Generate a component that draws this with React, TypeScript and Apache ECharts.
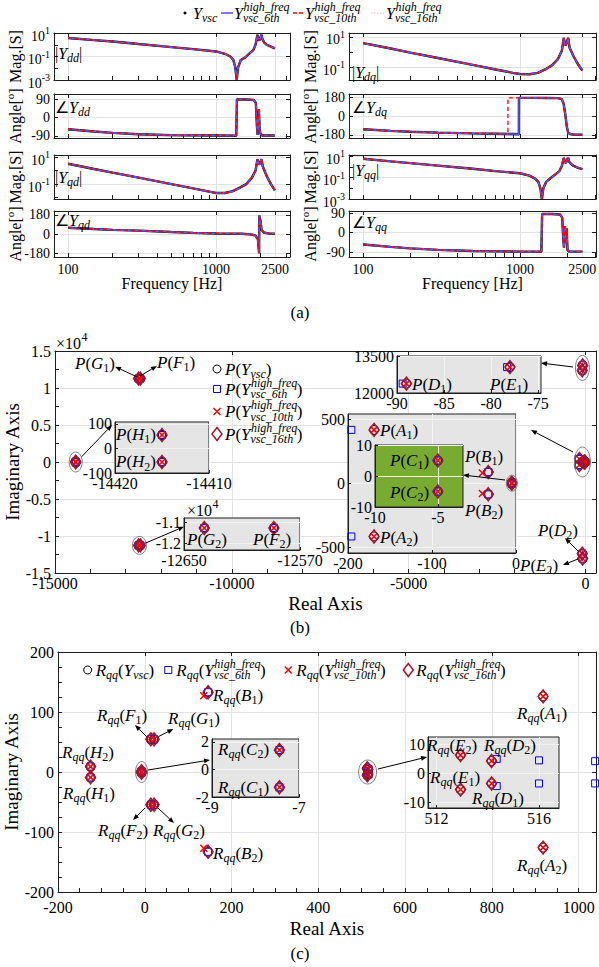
import React, { useEffect, useRef } from "react";
import * as echarts from "echarts";

const SERIF = "Liberation Serif, Times New Roman, serif";
const INK = "#1e1e1e";
const GRIDC = "#e3e3e3";

type Pt = [number, number];

// ---------------- (a) frequency responses ----------------
const freqLabels = [100, 1000, 2500];
const freqTicks = [100, 200, 300, 400, 500, 600, 700, 800, 900, 1000, 2000, 3000];

const fDdMag = [100, 150, 200, 300, 500, 700, 1000, 1150, 1250, 1310, 1350, 1380, 1410, 1470, 1570, 1700, 1785, 1850, 1905, 1935, 1970, 2000, 2030, 2060, 2120, 2200, 2350, 2500];
const ddMag = [3.8, 2.5, 1.9, 1.15, 0.63, 0.42, 0.27, 0.17, 0.1, 0.05, 0.012, 0.001, 0.012, 0.05, 0.08, 0.2, 0.35, 1.0, 7.0, 2.5, 2.5, 4.5, 7.0, 3.0, 1.5, 1.0, 0.7, 0.5];
const fDdAng = [100, 150, 200, 300, 500, 700, 1000, 1370, 1385, 1600, 1800, 1860, 1890, 1910, 1930, 1950, 1970, 2000, 2060, 2500];
const ddAng = [-57, -68, -75, -82, -86, -87, -88, -89, 88, 88, 86, 70, -40, -85, -20, 40, -60, -80, -88, -88];

const fDqMag = [100, 150, 200, 300, 500, 700, 900, 1000, 1150, 1300, 1450, 1600, 1750, 1850, 1905, 1940, 1970, 2030, 2070, 2200, 2350, 2500];
const dqMag = [3.8, 1.7, 0.9, 0.4, 0.14, 0.07, 0.042, 0.035, 0.034, 0.042, 0.07, 0.13, 0.35, 1.2, 8.5, 3.0, 3.0, 8.5, 2.0, 0.5, 0.15, 0.06];
const fDqAngA = [100, 150, 200, 300, 500, 700, 900, 985, 986, 1200, 1500, 1750, 1850, 1900, 1950, 1990, 2030, 2100, 2200, 2500];
const dqAngA = [-126, -141, -150, -158, -165, -169, -172, -174, 178, 178, 177, 175, 165, 120, 10, -100, -160, -172, -177, -178];
const fDqAngB = [100, 150, 200, 300, 500, 700, 838, 839, 1200, 1500, 1750, 1850, 1900, 1950, 1990, 2030, 2100, 2200, 2500];
const dqAngB = [-126, -141, -150, -158, -165, -169, -172, 178, 178, 177, 175, 165, 120, 10, -100, -160, -172, -177, -178];

const fQdMag = [100, 150, 200, 300, 500, 700, 900, 1000, 1150, 1300, 1450, 1600, 1750, 1850, 1905, 1940, 1970, 2030, 2070, 2200, 2350, 2500];
const qdMag = [3.2, 1.3, 0.7, 0.3, 0.1, 0.048, 0.028, 0.022, 0.022, 0.03, 0.055, 0.1, 0.3, 1.0, 7.0, 3.0, 3.0, 7.0, 2.0, 0.4, 0.1, 0.035];
const fQdAng = [100, 150, 200, 300, 500, 700, 1000, 1500, 1750, 1850, 1920, 1955, 1960, 2000, 2030, 2100, 2300, 2500];
const qdAng = [60, 48, 40, 33, 20, 12, 6, 3, -5, -15, -50, -180, 175, 120, 40, 15, 5, 3];

const fQqMag = [100, 150, 200, 300, 500, 700, 1000, 1150, 1250, 1310, 1350, 1380, 1410, 1470, 1570, 1700, 1785, 1850, 1905, 1935, 1970, 2000, 2030, 2060, 2120, 2200, 2350, 2500];
const qqMag = [5.6, 3.2, 2.2, 1.3, 0.65, 0.4, 0.25, 0.15, 0.08, 0.04, 0.01, 0.001, 0.01, 0.04, 0.09, 0.22, 0.4, 1.2, 7.0, 2.5, 2.5, 4.5, 7.5, 3.0, 1.8, 1.2, 0.8, 0.6];
const fQqAng = [100, 150, 200, 300, 500, 700, 1000, 1370, 1385, 1600, 1800, 1860, 1890, 1910, 1935, 1960, 1985, 2010, 2060, 2500];
const qqAng = [-55, -66, -73, -80, -85, -87, -88, -89, 86, 86, 84, 70, -30, -70, 30, -50, 20, -80, -88, -88];

const bodeNames = ["Y_vsc", "Y_vsc_6th", "Y_vsc_10th", "Y_vsc_16th"];

// ---------------- (b) poles of the admittance ----------------
const poleVsc: Pt[] = [[-169, 416], [-169, -416], [-33, 87], [-33, -87], [-5, 5], [-5, -5], [-89, 12381], [-89, -12381], [-78, 13049], [-78, -13049], [-12588, 11270], [-12588, -11270], [-12636, 11270], [-12636, -11270], [-14415, 55], [-14415, -55]];
const pole6th: Pt[] = [[-196, 416], [-196, -416], [-33, 87], [-33, -87], [-5, 5], [-5, -5], [-89.4, 12381], [-89.4, -12381], [-78.3, 13049], [-78.3, -13049], [-12588, 11270], [-12588, -11270], [-12636, 11270], [-12636, -11270], [-14415, 55], [-14415, -55]];
const pole10th: Pt[] = [[-169, 416], [-169, -416], [-40, 80], [-40, -80], [-5, 5], [-5, -5], [-89, 12381], [-89, -12381], [-78, 13049], [-78, -13049], [-12588, 11270], [-12588, -11270], [-12636, 11270], [-12636, -11270], [-14415, 55], [-14415, -55]];
const pole16th: Pt[] = [[-169, 416], [-169, -416], [-33, 87], [-33, -87], [-5, 5], [-5, -5], [-89, 12381], [-89, -12381], [-78, 13049], [-78, -13049], [-12588, 11270], [-12588, -11270], [-12636, 11270], [-12636, -11270], [-14415, 55], [-14415, -55]];
const poleXLabels = [-15000, -10000, -5000, 0];
const poleYLabels = [-15000, -10000, -5000, 0, 5000, 10000, 15000];

// ---------------- (c) R_qq ----------------
const rqqVsc: Pt[] = [[918, 126], [918, -126], [146, 133], [146, -133], [-7.45, 1.4], [-7.45, -1.3], [514.15, 4.2], [514.15, -3.5], [512.94, 6.2], [512.94, -5.6], [14, 54.5], [14, -54.5], [21.5, 54.5], [21.5, -54.5], [-125, 9], [-125, -9]];
const rqq6th: Pt[] = [[1038, 18], [1038, -19], [146, 133], [146, -133], [-7.45, 1.4], [-7.45, -1.3], [514.35, 4.9], [514.35, -4.4], [516.0, 4.4], [516.0, -3.5], [14, 54.5], [14, -54.5], [21.5, 54.5], [21.5, -54.5], [-125, 9], [-125, -9]];
const rqq10th: Pt[] = [[918, 126], [918, -126], [136, 127], [136, -127], [-7.45, 1.4], [-7.45, -1.3], [514.15, 4.2], [514.15, -3.5], [512.94, 6.2], [512.94, -5.6], [14, 54.5], [14, -54.5], [21.5, 54.5], [21.5, -54.5], [-125, 9], [-125, -9]];
const rqq16th: Pt[] = [[918, 126], [918, -126], [146, 133], [146, -133], [-7.45, 1.4], [-7.45, -1.3], [514.15, 4.2], [514.15, -3.5], [512.94, 6.2], [512.94, -5.6], [14, 54.5], [14, -54.5], [21.5, 54.5], [21.5, -54.5], [-125, 9], [-125, -9]];
const rqqXLabels = [-200, 0, 200, 400, 600, 800, 1000];
const rqqYLabels = [-200, -100, 0, 100, 200];

// ---------------- helpers ----------------
const range = (a: number, b: number, s: number) => {
  const r: number[] = [];
  for (let v = a; v <= b + 1e-9; v += s) r.push(Math.round(v * 1e6) / 1e6);
  return r;
};

let mctx: CanvasRenderingContext2D | null = null;
function measure(t: string, font: string) {
  if (!mctx) mctx = document.createElement("canvas").getContext("2d");
  mctx!.font = font;
  return mctx!.measureText(t).width;
}
type Tok = { t: string; sup?: string; sub?: string };
function parseTex(s: string): Tok[] {
  const toks: Tok[] = [];
  let i = 0;
  const group = () => {
    if (s[i] === "{") {
      const j = s.indexOf("}", i);
      const g = s.slice(i + 1, j);
      i = j + 1;
      return g;
    }
    return s[i++];
  };
  while (i < s.length) {
    const c = s[i];
    if ((c === "_" || c === "^") && toks.length) {
      i++;
      const g = group();
      if (c === "_") toks[toks.length - 1].sub = g;
      else toks[toks.length - 1].sup = g;
    } else {
      toks.push({ t: c });
      i++;
    }
  }
  return toks;
}
function texEls(s: string, x: number, y: number, size: number, align = "left", z = 60, color = "#000") {
  const ss = Math.round(size * 0.72);
  const fontOf = (str: string, sz: number) => `${/[A-Za-z]/.test(str) ? "italic " : ""}${sz}px ${SERIF}`;
  const items = parseTex(s).map((tk) => {
    const mf = fontOf(tk.t, size);
    const w = measure(tk.t, mf);
    let sw = 0;
    if (tk.sup) sw = Math.max(sw, measure(tk.sup, fontOf(tk.sup, ss)));
    if (tk.sub) sw = Math.max(sw, measure(tk.sub, fontOf(tk.sub, ss)));
    return { tk, mf, w, sw };
  });
  const total = items.reduce((a, b) => a + b.w + b.sw, 0);
  let cx = align === "left" ? x : align === "right" ? x - total : x - total / 2;
  const els: any[] = [];
  const mk = (t: string, xx: number, yy: number, font: string) => ({
    type: "text", z, silent: true, x: xx, y: yy,
    style: { text: t, font, fill: color, align: "left", verticalAlign: "middle" },
  });
  for (const it of items) {
    els.push(mk(it.tk.t, cx, y, it.mf));
    cx += it.w;
    if (it.tk.sup) els.push(mk(it.tk.sup, cx + 0.5, y - size * 0.38, fontOf(it.tk.sup, ss)));
    if (it.tk.sub) els.push(mk(it.tk.sub, cx, y + size * 0.32, fontOf(it.tk.sub, ss)));
    cx += it.sw;
  }
  return els;
}
function arrow(x1: number, y1: number, x2: number, y2: number) {
  const a = Math.atan2(y2 - y1, x2 - x1);
  const L = 6, Wd = 2.4;
  const bx = x2 - L * Math.cos(a), by = y2 - L * Math.sin(a);
  const px = -Math.sin(a) * Wd, py = Math.cos(a) * Wd;
  return [
    { type: "line", z: 58, silent: true, shape: { x1, y1, x2: bx, y2: by }, style: { stroke: "#000", lineWidth: 1 } },
    { type: "polygon", z: 58, silent: true, shape: { points: [[x2, y2], [bx + px, by + py], [bx - px, by - py]] }, style: { fill: "#000" } },
  ];
}
function seg(x1: number, x2: number, y: number, color: string, w: number, dash: number[] | null) {
  return { type: "line", z: 58, silent: true, shape: { x1, y1: y, x2, y2: y }, style: { stroke: color, lineWidth: w, lineDash: dash || undefined } };
}
function marker(k: number, cx: number, cy: number) {
  if (k === 0) return [{ type: "circle", z: 58, silent: true, shape: { cx, cy, r: 4 }, style: { fill: "none", stroke: "#000", lineWidth: 1 } }];
  if (k === 1) return [{ type: "rect", z: 58, silent: true, shape: { x: cx - 3.5, y: cy - 3.5, width: 7, height: 7 }, style: { fill: "none", stroke: "#0000ff", lineWidth: 1 } }];
  if (k === 2)
    return [
      { type: "line", z: 58, silent: true, shape: { x1: cx - 3.5, y1: cy - 3.5, x2: cx + 3.5, y2: cy + 3.5 }, style: { stroke: "#ff0000", lineWidth: 1.5 } },
      { type: "line", z: 58, silent: true, shape: { x1: cx - 3.5, y1: cy + 3.5, x2: cx + 3.5, y2: cy - 3.5 }, style: { stroke: "#ff0000", lineWidth: 1.5 } },
    ];
  return [{ type: "polygon", z: 58, silent: true, shape: { points: [[cx, cy - 6.5], [cx + 5, cy], [cx, cy + 6.5], [cx - 5, cy]] }, style: { fill: "none", stroke: "#a2142f", lineWidth: 1.5 } }];
}

const bodeStyles = [
  { color: "#000000", width: 2.4, type: "solid" as any },
  { color: "#5a5aff", width: 1.6, type: "solid" as any },
  { color: "#ff0000", width: 1.3, type: [4, 3] as any },
  { color: "#ffb3c0", width: 1.0, type: [1.5, 2] as any },
];
const markers = [
  { symbol: "circle", size: 9 as any, color: "#000000", bw: 1 },
  { symbol: "rect", size: 7 as any, color: "#0000ff", bw: 1 },
  { symbol: "path://M0,0L10,10M10,0L0,10", size: 7 as any, color: "#ff0000", bw: 1.5 },
  { symbol: "diamond", size: [10, 13] as any, color: "#a2142f", bw: 1.5 },
];

function primaryAxis(dim: string, gi: number, min: number, max: number, ticks: number[], labels: number[], o: any = {}) {
  return {
    type: "value", gridIndex: gi, min, max, z: o.z ?? 1,
    position: dim === "x" ? "bottom" : "left",
    axisLine: { show: true, onZero: false, lineStyle: { color: INK, width: 1 } },
    axisTick: { show: true, inside: true, length: o.tickLen ?? 4, customValues: ticks, lineStyle: { color: INK, width: 1 } },
    axisLabel: {
      show: o.showLabels !== false, customValues: labels, formatter: o.fmt ?? ((v: number) => String(v)),
      fontFamily: SERIF, fontSize: o.fs ?? 14, color: "#000", margin: o.margin ?? 4, rich: o.rich, hideOverlap: false,
    },
    splitLine: { show: !!o.split, lineStyle: { color: o.splitColor ?? GRIDC, width: 1 } },
    name: o.name || "", nameLocation: "middle", nameGap: o.nameGap ?? 20, nameRotate: dim === "y" ? 90 : 0,
    nameMoveOverlap: false,
    nameTextStyle: { fontFamily: SERIF, fontSize: o.nfs ?? 16, color: "#000", rich: o.nameRich },
  };
}
function mirrorAxis(dim: string, gi: number, min: number, max: number, ticks: number[]) {
  return {
    type: "value", gridIndex: gi, min, max, z: 1,
    position: dim === "x" ? "top" : "right",
    axisLine: { show: true, onZero: false, lineStyle: { color: INK, width: 1 } },
    axisTick: { show: true, inside: true, length: 4, customValues: ticks, lineStyle: { color: INK, width: 1 } },
    axisLabel: { show: false },
    splitLine: { show: true, lineStyle: { color: GRIDC, width: 1 } },
  };
}

function buildOption() {
  const grid: any[] = [], xAxis: any[] = [], yAxis: any[] = [], series: any[] = [];
  const idx: any = {};
  const addGrid = (g: any) => {
    grid.push({ show: false, containLabel: false, outerBoundsMode: "none", ...g });
    return grid.length - 1;
  };
  const addScatter = (sets: Pt[][], xi: number, yi: number, z: number) => {
    const first = series.length;
    sets.forEach((d, k) => {
      const m = markers[k];
      series.push({
        type: "scatter", name: bodeNames[k], xAxisIndex: xi, yAxisIndex: yi, data: d, symbol: m.symbol, symbolSize: m.size,
        itemStyle: { color: "rgba(0,0,0,0)", borderColor: m.color, borderWidth: m.bw, opacity: 1 }, clip: true, z, silent: true,
      });
    });
    return first;
  };

  // ---------- (a) ----------
  const colLeft = [54, 349], colWidth = [236, 247];
  const rowTop = [33, 94, 155, 211], rowHeight = [47, 44, 44, 46];
  const xRange = [[1.905, 3.5], [1.91, 3.485]];
  const logTicks = freqTicks.map((f) => Math.log10(f));
  const logLabels = freqLabels.map((f) => Math.log10(f));
  const magRich = {
    b: { fontSize: 14, fontFamily: SERIF, color: "#000", padding: [6, 0, 0, 0] },
    s: { fontSize: 10, fontFamily: SERIF, color: "#000", padding: [2, 0, 7, 0] },
  };
  const angRich = {
    b: { fontSize: 16, fontFamily: SERIF, color: "#000", padding: [5, 0, 0, 0] },
    s: { fontSize: 11, fontFamily: SERIF, color: "#000", padding: [0, 0, 6, 0] },
  };
  const panels = [
    { col: 0, row: 0, mag: true, fA: fDdMag, vA: ddMag, fB: fDdMag, vB: ddMag, min: -3, max: 1, ticks: [-3, -2, -1, 0, 1], labels: [-3, -1, 1] },
    { col: 0, row: 1, mag: false, fA: fDdAng, vA: ddAng, fB: fDdAng, vB: ddAng, min: -100, max: 115, ticks: [-90, 0, 90], labels: [-90, 0, 90] },
    { col: 0, row: 2, mag: true, fA: fQdMag, vA: qdMag, fB: fQdMag, vB: qdMag, min: -2.1, max: 1.15, ticks: [-2, -1, 0, 1], labels: [-1, 1] },
    { col: 0, row: 3, mag: false, fA: fQdAng, vA: qdAng, fB: fQdAng, vB: qdAng, min: -215, max: 217, ticks: [-180, 0, 180], labels: [-180, 0, 180] },
    { col: 1, row: 0, mag: true, fA: fDqMag, vA: dqMag, fB: fDqMag, vB: dqMag, min: -1.85, max: 1.25, ticks: [-1, 0, 1], labels: [-1, 1] },
    { col: 1, row: 1, mag: false, fA: fDqAngA, vA: dqAngA, fB: fDqAngB, vB: dqAngB, min: -210, max: 215, ticks: [-180, 0, 180], labels: [-180, 0, 180] },
    { col: 1, row: 2, mag: true, fA: fQqMag, vA: qqMag, fB: fQqMag, vB: qqMag, min: -3, max: 1.1, ticks: [-3, -2, -1, 0, 1], labels: [-3, -1, 1] },
    { col: 1, row: 3, mag: false, fA: fQqAng, vA: qqAng, fB: fQqAng, vB: qqAng, min: -113, max: 100, ticks: [-90, 0, 90], labels: [-90, 0, 90] },
  ];
  panels.forEach((p) => {
    const gi = addGrid({ left: colLeft[p.col], top: rowTop[p.row], width: colWidth[p.col], height: rowHeight[p.row] });
    const [xmin, xmax] = xRange[p.col];
    const bottom = p.row === 3;
    const xi = xAxis.push(primaryAxis("x", gi, xmin, xmax, logTicks, logLabels, {
      showLabels: bottom, fmt: (v: number) => String(Math.round(Math.pow(10, v))), fs: 14, margin: 5,
      name: bottom ? "Frequency [Hz]" : "", nameGap: 18, nfs: 16,
    })) - 1;
    xAxis.push(mirrorAxis("x", gi, xmin, xmax, logLabels));
    const yi = yAxis.push(primaryAxis("y", gi, p.min, p.max, p.ticks, p.labels, {
      fmt: p.mag ? (v: number) => `{b|10}{s|${v}}` : (v: number) => String(v), rich: p.mag ? magRich : undefined,
      fs: 14, margin: 4, name: p.mag ? "Mag.[S]" : "{b|Angle[}{s|o}{b|]}", nameGap: 31, nfs: 16, nameRich: angRich,
    })) - 1;
    yAxis.push(mirrorAxis("y", gi, p.min, p.max, p.labels));
    const toData = (f: number[], v: number[]) => f.map((fr, i) => [Math.log10(fr), p.mag ? Math.log10(v[i]) : v[i]]);
    [0, 3, 1, 2].forEach((k) => {
      const st = bodeStyles[k];
      const useB = k >= 2;
      series.push({
        type: "line", name: bodeNames[k], xAxisIndex: xi, yAxisIndex: yi,
        data: toData(useB ? p.fB : p.fA, useB ? p.vB : p.vA), showSymbol: false, symbol: "none",
        lineStyle: { color: st.color, width: st.width, type: st.type }, z: 3, silent: true, clip: true,
      });
    });
  });

  const inset = (box: any, xr: number[], yr: number[], xl: number[], yl: number[], sets: Pt[][], o: any = {}) => {
    const z = o.z ?? 10;
    const gi = addGrid({ ...box, show: true, backgroundColor: o.bg ?? "#e5e5e5", borderColor: INK, borderWidth: 1, z });
    const xi = xAxis.push(primaryAxis("x", gi, xr[0], xr[1], xl, xl, { fs: 16, margin: 2, split: true, splitColor: o.split ?? "#f3f3f3", z: z + 1, fmt: o.xfmt, tickLen: 3 })) - 1;
    const yi = yAxis.push(primaryAxis("y", gi, yr[0], yr[1], yl, yl, { fs: 16, margin: 3, split: true, splitColor: o.split ?? "#f3f3f3", z: z + 1, fmt: o.yfmt, tickLen: 3 })) - 1;
    return addScatter(sets, xi, yi, z + 2);
  };

  // ---------- (b) ----------
  const polesB = [poleVsc, pole6th, pole10th, pole16th];
  const gb = addGrid({ left: 55, top: 351, width: 541, height: 222 });
  const xb = xAxis.push(primaryAxis("x", gb, -15000, 300, range(-15000, 0, 1000), poleXLabels, { fs: 16, margin: 2, name: "Real Axis", nameGap: 21, nfs: 19 })) - 1;
  xAxis.push(mirrorAxis("x", gb, -15000, 300, poleXLabels));
  const yb = yAxis.push(primaryAxis("y", gb, -15000, 15000, range(-15000, 15000, 2500), poleYLabels, { fs: 16, margin: 4, fmt: (v: number) => String(v / 1e4), name: "Imaginary Axis", nameGap: 33, nfs: 19 })) - 1;
  yAxis.push(mirrorAxis("y", gb, -15000, 15000, poleYLabels));
  idx.b = addScatter(polesB, xb, yb, 2);
  inset({ left: 115, top: 422, width: 94, height: 51 }, [-14420, -14410], [-100, 108], [-14420, -14410], [-100, 0, 100], polesB);
  inset({ left: 184, top: 518, width: 116, height: 32 }, [-12650, -12570], [-12325, -10790], [-12650, -12570], [-12000, -11000], polesB, { yfmt: (v: number) => String(v / 1e4) });
  inset({ left: 397, top: 356, width: 144, height: 37 }, [-90, -74.7], [12000, 13500], [-90, -85, -80, -75], [12000, 13500], polesB);
  idx.ab = inset({ left: 348, top: 414, width: 168, height: 139 }, [-200, 0], [-545, 540], [-200, -100, 0], [-500, 0, 500], polesB);
  inset({ left: 375, top: 445, width: 88, height: 62 }, [-10, -3], [-10, 10], [-10, -5], [-10, 0, 10], polesB, { bg: "#77ac30", split: "#f4f4f4", z: 20 });

  // ---------- (c) ----------
  const setsC = [rqqVsc, rqq6th, rqq10th, rqq16th];
  const gc = addGrid({ left: 58, top: 652, width: 538, height: 240 });
  const xc = xAxis.push(primaryAxis("x", gc, -200, 1040, range(-200, 1000, 50), rqqXLabels, { fs: 16, margin: 7, name: "Real Axis", nameGap: 27, nfs: 19 })) - 1;
  xAxis.push(mirrorAxis("x", gc, -200, 1040, rqqXLabels));
  const yc = yAxis.push(primaryAxis("y", gc, -200, 200, range(-200, 200, 25), rqqYLabels, { fs: 16, margin: 4, name: "Imaginary Axis", nameGap: 37, nfs: 19 })) - 1;
  yAxis.push(mirrorAxis("y", gc, -200, 200, rqqYLabels));
  idx.c = addScatter(setsC, xc, yc, 2);
  inset({ left: 212, top: 739, width: 87, height: 58 }, [-9, -7], [-2, 2.2], [-9, -7], [-2, 0, 2], setsC);
  inset({ left: 428, top: 737, width: 131, height: 71 }, [511.67, 516.78], [-11.9, 12.4], [512, 516], [-10, 0, 10], setsC);

  return { option: { animation: false, backgroundColor: "#ffffff", textStyle: { fontFamily: SERIF }, grid, xAxis, yAxis, series }, idx };
}

function buildGraphics(chart: any, idx: any) {
  const els: any[] = [];
  const add = (a: any) => (Array.isArray(a) ? els.push(...a) : els.push(a));
  const ell = (si: number, pt: Pt, rx: number, ry: number) => {
    const p = chart.convertToPixel({ seriesIndex: si }, pt) as number[];
    return { type: "ellipse", z: 55, silent: true, shape: { cx: p[0], cy: p[1], rx, ry }, style: { fill: "none", stroke: "#808080", lineWidth: 1 } };
  };

  // ---- (a) legend & tags ----
  add({ type: "circle", z: 58, silent: true, shape: { cx: 185, cy: 13, r: 1.5 }, style: { fill: "#000" } });
  add(texEls("Y_{vsc}", 193, 13, 16));
  add(seg(221, 233, 13, "#5a5aff", 1.6, null));
  add(texEls("Y^{high_freq}_{vsc_6th}", 234, 13, 16));
  add(seg(293, 304, 13, "#ff0000", 1.4, [4, 2]));
  add(texEls("Y^{high_freq}_{vsc_10th}", 305, 13, 16));
  add(seg(371, 385, 13, "#ffb3c0", 1.2, [1.5, 1.5]));
  add(texEls("Y^{high_freq}_{vsc_16th}", 386, 13, 16));
  const tags: [string, number, number][] = [
    ["|Y_{dd}|", 55, 53], ["∠Y_{dd}", 55, 107], ["|Y_{qd}|", 55, 177], ["∠Y_{qd}", 55, 220],
    ["|Y_{dq}|", 352, 72], ["∠Y_{dq}", 352, 107], ["|Y_{qq}|", 352, 170], ["∠Y_{qq}", 352, 222],
  ];
  tags.forEach(([s, x, y]) => add(texEls(s, x, y, 16)));
  const cap = (t: string, y: number) => ({ type: "text", z: 58, silent: true, x: 300, y, style: { text: t, font: `17px ${SERIF}`, fill: "#000", align: "center", verticalAlign: "middle" } });
  add(cap("(a)", 312));
  add(cap("(b)", 627));
  add(cap("(c)", 953));

  // ---- (b) ----
  add(texEls("×10^{4}", 56, 343, 16));
  add(texEls("×10^{4}", 187, 510, 16));
  const legB = ["P(Y_{vsc})", "P(Y^{high_freq}_{vsc_6th})", "P(Y^{high_freq}_{vsc_10th})", "P(Y^{high_freq}_{vsc_16th})"];
  const legBy = [369, 389, 411.5, 434];
  legB.forEach((s, k) => {
    add(marker(k, 217, legBy[k]));
    add(texEls(s, 225, legBy[k], 17));
  });
  const labB: [string, number, number, string][] = [
    ["P(G_{1})", 115, 363, "right"], ["P(F_{1})", 157, 362, "left"],
    ["P(H_{1})", 116, 434, "left"], ["P(H_{2})", 116, 461.5, "left"],
    ["P(G_{2})", 187, 539, "left"], ["P(F_{2})", 253, 539, "left"],
    ["P(D_{1})", 412, 384, "left"], ["P(E_{1})", 490, 384, "left"],
    ["P(A_{1})", 380, 430, "left"], ["P(A_{2})", 380, 537, "left"],
    ["P(B_{1})", 465, 456, "left"], ["P(B_{2})", 465, 510, "left"],
    ["P(C_{1})", 390, 460, "left"], ["P(C_{2})", 390, 492, "left"],
    ["P(D_{2})", 538, 530, "left"], ["P(E_{2})", 520, 565, "left"],
  ];
  labB.forEach(([s, x, y, a]) => add(texEls(s, x, y, 17, a)));
  const arrB = [
    [136.7, 376.7, 115, 366.7], [140, 376, 157, 366], [81.7, 456.7, 112, 425], [145, 543.3, 184, 526.7],
    [573, 367, 541, 363], [573, 452, 531, 430], [505, 480, 463, 475], [579, 552, 565, 538], [578, 559, 563, 565],
  ];
  arrB.forEach((a) => add(arrow(a[0], a[1], a[2], a[3])));
  add(ell(idx.b, [-14415, 0], 6.5, 10));
  add(ell(idx.b, [-12612, -11270], 7, 9));
  add(ell(idx.b, [-84, 12715], 7, 12.5));
  add(ell(idx.b, [-85, 0], 8, 15));
  add(ell(idx.ab, [-5, 0], 5.5, 8));

  // ---- (c) ----
  const legC = ["R_{qq}(Y_{vsc})", "R_{qq}(Y^{high_freq}_{vsc_6th})", "R_{qq}(Y^{high_freq}_{vsc_10th})", "R_{qq}(Y^{high_freq}_{vsc_16th})"];
  const legCx = [87.7, 168.3, 288.3, 408.3];
  legC.forEach((s, k) => {
    add(marker(k, legCx[k], 670));
    add(texEls(s, legCx[k] + 8, 670, 17));
  });
  const labC: [string, number, number][] = [
    ["R_{qq}(B_{1})", 213, 695], ["R_{qq}(F_{1})", 97, 715], ["R_{qq}(G_{1})", 168, 718],
    ["R_{qq}(H_{2})", 62, 752], ["R_{qq}(H_{1})", 63, 793], ["R_{qq}(F_{2})", 98, 830], ["R_{qq}(G_{2})", 153, 830],
    ["R_{qq}(B_{2})", 213, 853], ["R_{qq}(A_{1})", 517, 713], ["R_{qq}(A_{2})", 517, 865],
    ["R_{qq}(C_{2})", 218, 749], ["R_{qq}(C_{1})", 218, 787],
    ["R_{qq}(E_{2})", 427, 745], ["R_{qq}(D_{2})", 484, 745], ["R_{qq}(E_{1})", 430, 777], ["R_{qq}(D_{1})", 472, 798],
  ];
  labC.forEach(([s, x, y]) => add(texEls(s, x, y, 17)));
  const arrC = [
    [146.7, 736.7, 135, 725], [158.3, 736.7, 173.3, 729], [145, 808, 133, 820], [158, 808, 174, 823],
    [148, 770, 210, 760], [378, 769, 427, 757],
  ];
  arrC.forEach((a) => add(arrow(a[0], a[1], a[2], a[3])));
  add(ell(idx.c, [-7.45, 0], 6, 10.5));
  add(ell(idx.c, [513.5, 0], 9, 12));
  return els;
}

export default function App() {
  const ref = useRef<HTMLDivElement>(null);
  useEffect(() => {
    if (!ref.current) return;
    const chart = echarts.init(ref.current, null, { renderer: "svg" });
    const { option, idx } = buildOption();
    chart.setOption(option as any);
    chart.setOption({ graphic: { elements: buildGraphics(chart, idx) } } as any);
    return () => chart.dispose();
  }, []);
  return <div ref={ref} style={{ position: "absolute", left: 0, top: 0, width: 599, height: 967, background: "#fff" }} />;
}
